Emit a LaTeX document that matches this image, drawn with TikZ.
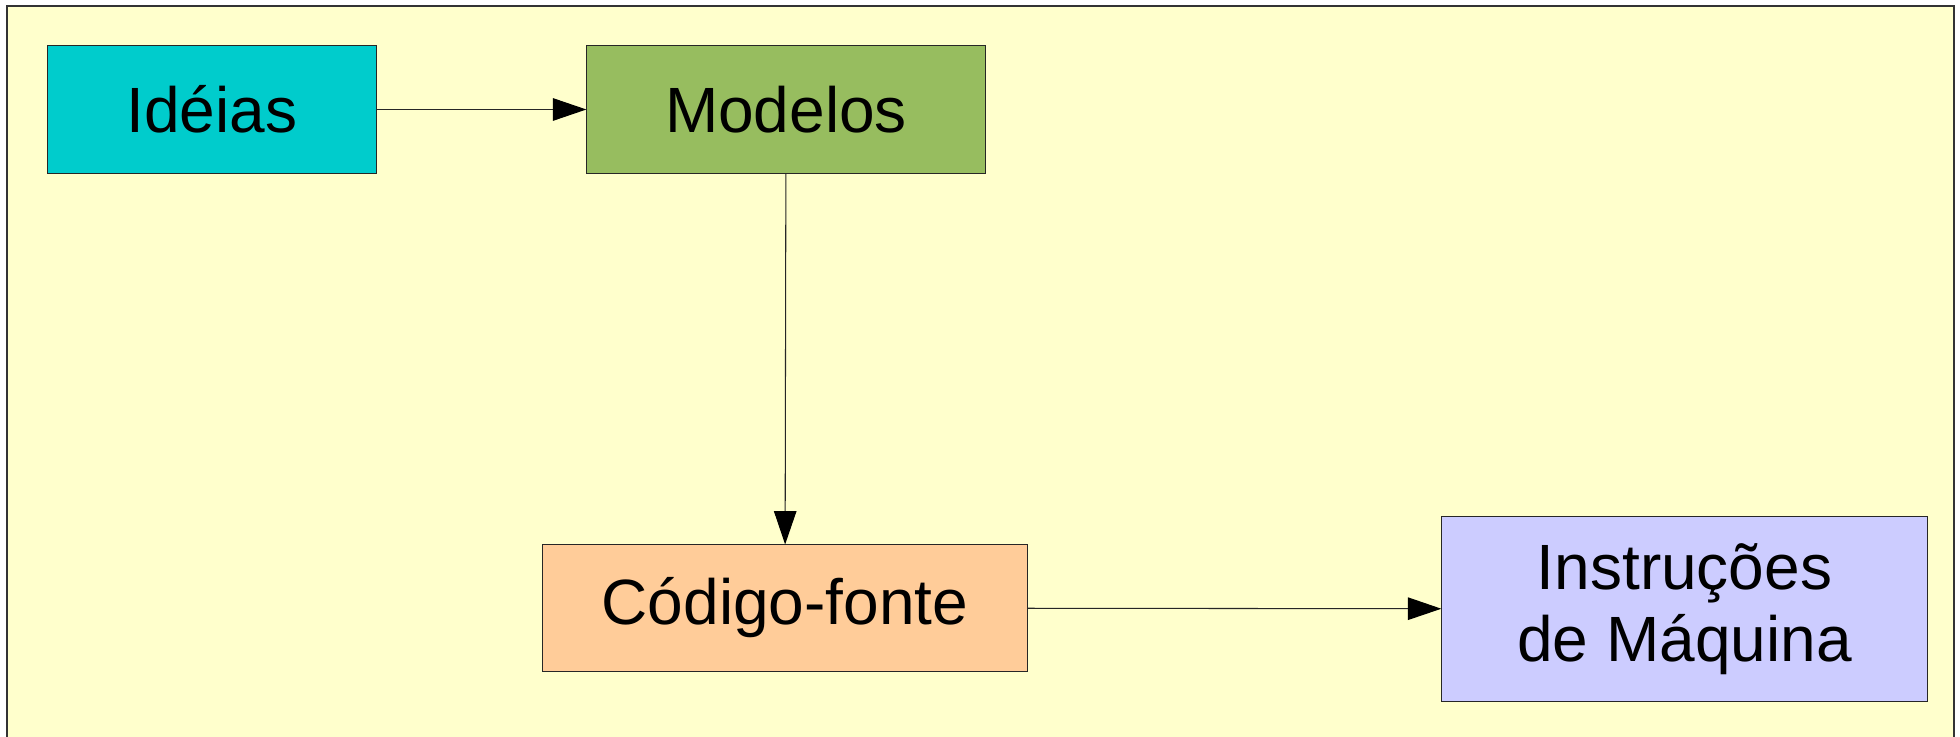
\documentclass[tikz,border=0pt]{standalone}
\usepackage{fontspec}
\setmainfont{Liberation Sans}
\usepackage{tikz}
\usetikzlibrary{arrows.meta}

\definecolor{paper}{HTML}{FFFFCC}
\definecolor{ideafill}{HTML}{00CCCC}
\definecolor{modelfill}{HTML}{97BD5F}
\definecolor{codefill}{HTML}{FFCC99}
\definecolor{instrfill}{HTML}{CCCCFF}

\begin{document}
\begin{tikzpicture}[x=0.01cm,y=-0.01cm,line width=0.3pt,
    box/.style={draw=black!85, inner sep=0pt, align=center,
                font=\fontsize{18.2}{20.3}\selectfont},
    flow/.style={draw=black!85, -{Triangle[length=9.5pt,width=6.4pt,color=black]}}]

                \useasboundingbox (0,0) rectangle (1960,737);
                \clip (0,0) rectangle (1960,737);
                \draw [draw=black!80, fill=paper] (7,6) rectangle (1954,760);

                \node [box, fill=ideafill, minimum width=3.29cm, minimum height=1.27cm] (ideias) at (212,109.5) {Idéias};
                \node [box, fill=modelfill, minimum width=3.98cm, minimum height=1.27cm] (modelos) at (786,109.5) {Modelos};
                \node [box, fill=codefill, minimum width=4.85cm, minimum height=1.26cm] (codigo) at (785,608) {Código-fonte};
                \node [box, fill=instrfill, minimum width=4.85cm, minimum height=1.85cm] (instrucoes) at (1684.5,609) {Instruções\\de Máquina};

                \draw [flow] (ideias) -- (modelos);
                \draw [flow] (modelos) -- (codigo);
                \draw [flow] (codigo) -- (instrucoes);

            \end{tikzpicture}
\end{document}
